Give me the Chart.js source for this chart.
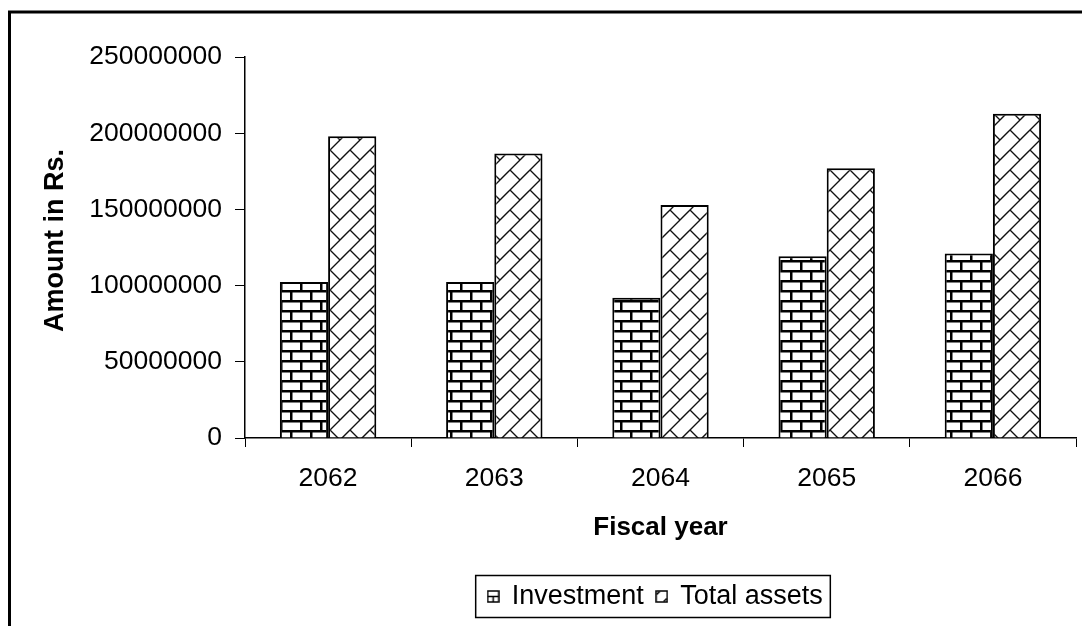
<!DOCTYPE html>
<html>
<head>
<meta charset="utf-8">
<title>Investment and total assets</title>
<script src="https://cdn.jsdelivr.net/npm/chart.js@4.4.1/dist/chart.umd.min.js"></script>
<style>
  html, body { margin: 0; padding: 0; background: #fff; overflow: hidden; }
  #assetChart { display: block; }
</style>
</head>
<body>
<canvas id="assetChart" width="1082" height="626"></canvas>
<script>
const fiscalYears = ['2062', '2063', '2064', '2065', '2066'];
const investment = [102400000, 102300000, 92100000, 119300000, 121000000];
const totalAssets = [198000000, 186600000, 152900000, 177000000, 212800000];
const yMax = 250000000;
const yStep = 50000000;
const yTitle = 'Amount in Rs.';

const FONT = "'Liberation Sans', Arial, sans-serif";

const canvas = document.getElementById('assetChart');
const ctx = canvas.getContext('2d');

function makeTile(size) {
    const c = document.createElement('canvas');
    c.width = size;
    c.height = size;
    const g = c.getContext('2d');
    g.fillStyle = '#fff';
    g.fillRect(0, 0, size, size);
    return { c, g };
}

// horizontal bricks, half-brick offset every other row
function brickPattern() {
    const s = 20;
    const { c, g } = makeTile(s);
    g.fillStyle = '#000';
    g.fillRect(0, 0, s, 2.5);
    g.fillRect(0, s / 2, s, 2.5);
    g.fillRect(0, 0, 2.5, s / 2);
    g.fillRect(s / 2, s / 2, 2.5, s / 2);
    return ctx.createPattern(c, 'repeat');
}

// bricks laid along the upward diagonal
function diagonalBrickPattern() {
    const s = 20;
    const { c, g } = makeTile(s);
    g.strokeStyle = '#111';
    g.lineWidth = 1.4;
    for (let ox = -s; ox <= s; ox += s) {
        for (let oy = -s; oy <= s; oy += s) {
            g.beginPath();
            g.moveTo(ox, oy + s);
            g.lineTo(ox + s, oy);
            g.moveTo(ox + s / 2, oy + s / 2);
            g.lineTo(ox + s, oy + s);
            g.stroke();
        }
    }
    return ctx.createPattern(c, 'repeat');
}

function legendIcon(kind) {
    const { c, g } = makeTile(13);
    g.strokeStyle = '#000';
    g.lineWidth = 1.5;
    g.strokeRect(1, 1, 11, 11);
    g.beginPath();
    if (kind === 'brick') {
        g.moveTo(1, 6.5); g.lineTo(12, 6.5);
        g.moveTo(6.5, 6.5); g.lineTo(6.5, 12);
    } else {
        g.moveTo(1.5, 4.5); g.lineTo(4.5, 1.5);
        g.moveTo(8.5, 11.5); g.lineTo(11.5, 8.5);
    }
    g.stroke();
    return c;
}

const legendIcons = [legendIcon('brick'), legendIcon('diag')];

// outer frame of the chart sheet
const framePlugin = {
    id: 'frame',
    beforeDraw(chart) {
        const c = chart.ctx;
        c.save();
        c.strokeStyle = '#000';
        c.lineWidth = 3;
        c.strokeRect(9.5, 12, chart.width + 20, chart.height + 20);
        c.restore();
    }
};

// vertical axis title, set a little above the plot's middle
const yTitlePlugin = {
    id: 'yTitle',
    afterDraw(chart) {
        const c = chart.ctx;
        c.save();
        c.translate(55.5, 240.5);
        c.rotate(-Math.PI / 2);
        c.font = 'bold 27px ' + FONT;
        c.fillStyle = '#000';
        c.textAlign = 'center';
        c.textBaseline = 'middle';
        c.fillText(yTitle, 0, 0);
        c.restore();
    }
};

// centre the legend under the plot area and put a box round it
const legendBoxPlugin = {
    id: 'legendBox',
    afterLayout(chart) {
        const lg = chart.legend;
        const area = chart.chartArea;
        lg.left = area.left;
        lg.right = area.right - 10;
        lg.width = lg.right - lg.left;
    },
    afterDraw(chart) {
        const boxes = chart.legend.legendHitBoxes;
        if (!boxes || !boxes.length) return;
        const first = boxes[0];
        const last = boxes[boxes.length - 1];
        const cy = first.top + first.height / 2;
        const c = chart.ctx;
        c.save();
        c.strokeStyle = '#000';
        c.lineWidth = 1.5;
        c.strokeRect(first.left - 12.5, cy - 21, last.left + last.width + 20 - first.left, 42);
        c.restore();
    }
};

new Chart(ctx, {
    type: 'bar',
    data: {
        labels: fiscalYears,
        datasets: [{
            label: 'Investment',
            data: investment,
            backgroundColor: brickPattern(),
            borderColor: '#000',
            borderWidth: 2
        }, {
            label: 'Total assets',
            data: totalAssets,
            backgroundColor: diagonalBrickPattern(),
            borderColor: '#000',
            borderWidth: 2
        }]
    },
    options: {
        responsive: false,
        animation: false,
        layout: {
            padding: { top: 57, right: 6, bottom: 6, left: 0 }
        },
        datasets: {
            bar: {
                categoryPercentage: 0.58,
                barPercentage: 1
            }
        },
        plugins: {
            tooltip: { enabled: false },
            legend: {
                position: 'bottom',
                labels: {
                    usePointStyle: true,
                    boxWidth: 10,
                    padding: 13,
                    color: '#000',
                    font: { family: FONT, size: 27 },
                    generateLabels(chart) {
                        return chart.data.datasets.map((ds, i) => ({
                            text: ds.label,
                            pointStyle: legendIcons[i],
                            datasetIndex: i,
                            hidden: false,
                            lineWidth: 0,
                            fontColor: '#000'
                        }));
                    }
                }
            }
        },
        scales: {
            x: {
                grid: {
                    offset: true,
                    drawOnChartArea: false,
                    drawTicks: true,
                    tickLength: 9,
                    color: '#000'
                },
                border: { display: true, color: '#000', width: 1.5 },
                ticks: {
                    color: '#000',
                    padding: 16,
                    font: { family: FONT, size: 26.5, lineHeight: 1.2 }
                },
                title: {
                    display: true,
                    text: 'Fiscal year',
                    color: '#000',
                    font: { family: FONT, size: 26, weight: 'bold', lineHeight: 1.2 },
                    padding: { top: 0, bottom: 27 }
                },
                afterFit(scale) {
                    scale.height = 132;
                }
            },
            y: {
                min: 0,
                max: yMax,
                grid: {
                    drawOnChartArea: false,
                    drawTicks: true,
                    tickLength: 10,
                    color: '#000'
                },
                border: { display: true, color: '#000', width: 1.5 },
                ticks: {
                    stepSize: yStep,
                    color: '#000',
                    padding: 13,
                    font: { family: FONT, size: 26.5, lineHeight: 1.2 },
                    callback: value => String(value)
                },
                afterFit(scale) {
                    scale.width = 245;
                }
            }
        }
    },
    plugins: [framePlugin, yTitlePlugin, legendBoxPlugin]
});
</script>
</body>
</html>
